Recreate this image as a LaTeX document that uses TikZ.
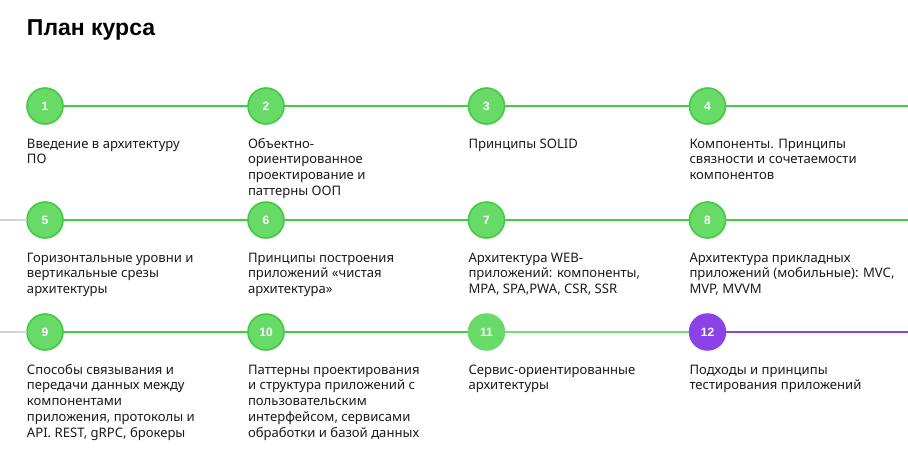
\documentclass[tikz,border=0pt]{standalone}
\usepackage{fontspec}
\setmainfont{Noto Sans}
\newfontfamily\titlefont{Liberation Sans}
\begin{document}
\begin{tikzpicture}[x=1pt,y=-1pt,
  every node/.style={inner sep=0pt,outer sep=0pt},
  stepcirc/.style={circle,minimum size=36pt,draw=circborder,fill=circfill,line width=1.6pt,text=white,font=\titlefont\fontsize{12}{14}\selectfont\bfseries},
  stepcircb/.style={circle,minimum size=37.5pt,fill=circfill,text=white,font=\titlefont\fontsize{12}{14}\selectfont\bfseries},
  stepcircp/.style={circle,minimum size=37.5pt,fill=purp,text=white,font=\titlefont\fontsize{12}{14}\selectfont\bfseries},
  desc/.style={anchor=north west,align=left,text=txt,font=\fontsize{13.1}{15.9}\selectfont},
  gline/.style={draw=lgreen,line width=2.4pt},
  lgline/.style={draw=lightline,line width=2.4pt},
  pline/.style={draw=purp,line width=2.4pt},
  grayline/.style={draw=grayc,line width=1.6pt}
]
\definecolor{circfill}{HTML}{68DA68}
\definecolor{circborder}{HTML}{42CB42}
\definecolor{lgreen}{HTML}{3ECF3E}
\definecolor{lightline}{HTML}{72DC72}
\definecolor{purp}{HTML}{8B43E8}
\definecolor{grayc}{HTML}{D4D4D4}
\definecolor{txt}{HTML}{1A1A1A}
\useasboundingbox (0,0) rectangle (908,453);

\node[anchor=base west,text=black,font=\titlefont\fontsize{23}{27}\selectfont\bfseries] (title) at (27,35.5) {План курса};

% row 1
\node[stepcirc] (c1) at (45,106) {1};
\node[stepcirc] (c2) at (266,106) {2};
\node[stepcirc] (c3) at (486.5,106) {3};
\node[stepcirc] (c4) at (707.5,106) {4};
\coordinate (r1e) at (908,106);
% row 2
\coordinate (r2s) at (0,220);
\node[stepcirc] (c5) at (45,220) {5};
\node[stepcirc] (c6) at (266,220) {6};
\node[stepcirc] (c7) at (486.5,220) {7};
\node[stepcirc] (c8) at (707.5,220) {8};
\coordinate (r2e) at (908,220);
% row 3
\coordinate (r3s) at (0,332);
\node[stepcirc] (c9) at (45,332) {9};
\node[stepcirc] (c10) at (266,332) {10};
\node[stepcircb] (c11) at (486.5,332) {11};
\node[stepcircp] (c12) at (707.5,332) {12};
\coordinate (r3e) at (908,332);

% connectors
\draw[gline] (c1) -- (c2);
\draw[gline] (c2) -- (c3);
\draw[gline] (c3) -- (c4);
\draw[gline] (c4) -- (r1e);
\draw[grayline] (r2s) -- (c5);
\draw[gline] (c5) -- (c6);
\draw[gline] (c6) -- (c7);
\draw[gline] (c7) -- (c8);
\draw[gline] (c8) -- (r2e);
\draw[grayline] (r3s) -- (c9);
\draw[gline] (c9) -- (c10);
\draw[gline] (c10) -- (c11);
\draw[lgline] (c11) -- (c12);
\draw[pline] (c12) -- (r3e);

% descriptions (first baseline = top + 0.7*15.9)
\node[desc] (t1) at (27,136.9) {\strut Введение в архитектуру\\ПО};
\node[desc] (t2) at (248,136.9) {\strut Объектно-\\ориентированное\\проектирование и\\паттерны ООП};
\node[desc] (t3) at (468.5,136.9) {\strut Принципы SOLID};
\node[desc] (t4) at (689.5,136.9) {\strut Компоненты. Принципы\\связности и сочетаемости\\компонентов};
\node[desc] (t5) at (27,250.9) {\strut Горизонтальные уровни и\\вертикальные срезы\\архитектуры};
\node[desc] (t6) at (248,250.9) {\strut Принципы построения\\приложений «чистая\\архитектура»};
\node[desc] (t7) at (468.5,250.9) {\strut Архитектура WEB-\\приложений: компоненты,\\MPA, SPA,PWA, CSR, SSR};
\node[desc] (t8) at (689.5,250.9) {\strut Архитектура прикладных\\приложений (мобильные): MVC,\\MVP, MVVM};
\node[desc] (t9) at (27,362.9) {\strut Способы связывания и\\передачи данных между\\компонентами\\приложения, протоколы и\\API. REST, gRPC, брокеры};
\node[desc] (t10) at (248,362.9) {\strut Паттерны проектирования\\и структура приложений с\\пользовательским\\интерфейсом, сервисами\\обработки и базой данных};
\node[desc] (t11) at (468.5,362.9) {\strut Сервис-ориентированные\\архитектуры};
\node[desc] (t12) at (689.5,362.9) {\strut Подходы и принципы\\тестирования приложений};
\end{tikzpicture}
\end{document}
